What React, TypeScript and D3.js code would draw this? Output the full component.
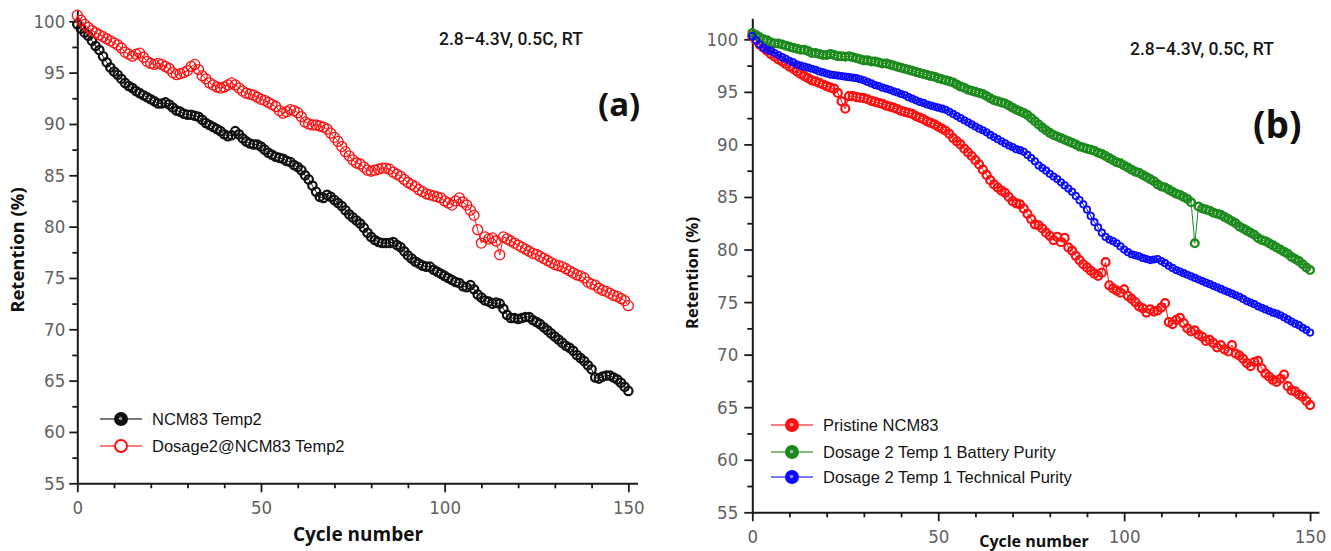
import React, { useRef, useEffect } from 'react';
import * as d3 from 'd3';

// retention (%) per cycle, index = cycle number 0..150
const NCM83_TEMP2 = [
  99.7, 99.3, 98.9, 98.6, 98.1, 97.6, 97.2, 96.6, 96.0, 95.5,
  95.1, 94.8, 94.4, 94.0, 93.7, 93.5, 93.2, 93.0, 92.8, 92.6,
  92.4, 92.2, 92.0, 92.0, 92.1, 91.9, 91.6, 91.3, 91.2, 91.0,
  90.9, 90.9, 90.8, 90.7, 90.4, 90.1, 89.9, 89.7, 89.5, 89.3,
  89.0, 88.8, 88.9, 89.3, 89.0, 88.6, 88.3, 88.1, 88.0, 88.0,
  87.8, 87.5, 87.2, 87.0, 86.8, 86.7, 86.6, 86.4, 86.3, 86.0,
  85.8, 85.5, 85.0, 84.6, 84.0, 83.4, 82.9, 82.8, 83.1, 82.9,
  82.6, 82.3, 82.0, 81.6, 81.2, 80.9, 80.6, 80.3, 79.9, 79.4,
  79.0, 78.7, 78.5, 78.4, 78.4, 78.4, 78.5, 78.2, 78.0, 77.6,
  77.2, 76.9, 76.6, 76.4, 76.2, 76.1, 76.1, 75.8, 75.6, 75.4,
  75.2, 75.0, 74.8, 74.6, 74.5, 74.2, 74.1, 74.3, 73.9, 73.4,
  73.1, 72.8, 72.7, 72.5, 72.6, 72.5, 72.0, 71.4, 71.1, 71.1,
  71.0, 71.1, 71.2, 71.2, 70.9, 70.7, 70.5, 70.2, 69.9, 69.6,
  69.3, 69.0, 68.7, 68.4, 68.2, 67.9, 67.5, 67.2, 66.9, 66.5,
  66.1, 65.3, 65.2, 65.4, 65.5, 65.5, 65.3, 65.1, 64.8, 64.4,
  64.0,
];

const DOSAGE2_NCM83_TEMP2 = [
  100.6, 100.1, 99.7, 99.4, 99.1, 98.9, 98.7, 98.5, 98.3, 98.1,
  97.9, 97.7, 97.4, 97.0, 96.8, 96.6, 96.8, 96.9, 96.5, 96.1,
  95.9, 95.8, 95.9, 95.8, 95.6, 95.4, 95.0, 94.8, 94.9, 95.0,
  95.2, 95.6, 95.8, 95.3, 94.7, 94.4, 94.0, 93.8, 93.6, 93.5,
  93.6, 93.8, 94.0, 93.8, 93.5, 93.2, 93.0, 92.9, 92.8, 92.6,
  92.4, 92.3, 92.1, 91.9, 91.7, 91.3, 91.05, 91.2, 91.4, 91.3,
  91.1, 90.7, 90.2, 90.0, 89.9, 89.9, 89.8, 89.7, 89.5, 89.1,
  88.7, 88.3, 87.8, 87.3, 86.9, 86.5, 86.2, 86.1, 85.8, 85.5,
  85.4, 85.5, 85.6, 85.7, 85.7, 85.6, 85.3, 85.1, 84.9, 84.6,
  84.3, 84.1, 83.9, 83.6, 83.4, 83.2, 83.1, 83.0, 82.9, 82.8,
  82.5, 82.3, 82.1, 82.5, 82.8, 82.4, 82.1, 81.6, 81.1, 79.7,
  78.4, 79.0, 78.8, 78.9, 78.6, 77.25, 79.0, 78.8, 78.6, 78.4,
  78.2, 78.0, 77.8, 77.6, 77.4, 77.3, 77.1, 76.9, 76.7, 76.5,
  76.3, 76.2, 76.1, 75.9, 75.7, 75.5, 75.3, 75.2, 75.0, 74.6,
  74.4, 74.3, 74.0, 73.8, 73.7, 73.5, 73.3, 73.2, 73.0, 72.8,
  72.3,
];

const PRISTINE_NCM83 = [
  100.3, 99.9, 99.5, 99.2, 98.9, 98.6, 98.35, 98.1, 97.9, 97.65,
  97.4, 97.2, 96.95, 96.7, 96.5, 96.3, 96.1, 96.0, 95.85, 95.7,
  95.55, 95.4, 95.3, 94.9, 94.1, 93.4, 94.6, 94.6, 94.5, 94.45,
  94.4, 94.3, 94.15, 94.05, 93.95, 93.85, 93.7, 93.6, 93.5, 93.35,
  93.2, 93.1, 93.0, 92.9, 92.7, 92.55, 92.4, 92.2, 92.05, 91.9,
  91.7, 91.5, 91.3, 91.0, 90.6, 90.3, 90.0, 89.6, 89.25, 88.9,
  88.5, 88.1, 87.6, 87.1, 86.6, 86.2, 85.9, 85.6, 85.4, 85.0,
  84.6, 84.4, 84.3, 83.9, 83.4, 82.9, 82.4, 82.3, 82.0, 81.6,
  81.3, 80.9, 81.2, 80.7, 81.1, 80.2, 79.9, 79.4, 79.0, 78.6,
  78.3, 78.0, 77.7, 77.5, 77.8, 78.8, 76.6, 76.3, 76.1, 75.9,
  76.2, 75.6, 75.3, 75.0, 74.6, 74.4, 74.0, 74.3, 74.1, 74.2,
  74.5, 74.9, 73.1, 72.9, 73.3, 73.5, 73.0, 72.5, 72.2, 72.3,
  71.9, 71.7, 71.3, 71.4, 71.1, 70.7, 70.9, 70.5, 70.3, 70.9,
  70.1, 69.9, 69.6, 69.2, 68.9, 69.3, 69.4, 68.7, 68.2, 67.9,
  67.6, 67.4, 67.7, 68.1, 67.0, 66.6, 66.5, 66.2, 66.0, 65.6,
  65.2,
];

const BATTERY_PURITY = [
  100.6, 100.4, 100.2, 100.0, 99.9, 99.7, 99.6, 99.6, 99.5, 99.4,
  99.3, 99.2, 99.1, 99.0, 99.0, 98.9, 98.7, 98.7, 98.6, 98.5,
  98.5, 98.6, 98.5, 98.4, 98.4, 98.35, 98.4, 98.3, 98.2, 98.1,
  98.0, 98.0, 97.9, 97.9, 97.8, 97.7, 97.7, 97.6, 97.5, 97.4,
  97.3, 97.2, 97.1, 97.0, 96.9, 96.8, 96.7, 96.6, 96.5, 96.45,
  96.3, 96.2, 96.1, 96.0, 95.9, 95.7, 95.5, 95.4, 95.2, 95.1,
  95.0, 94.9, 94.8, 94.6, 94.4, 94.2, 94.1, 94.0, 93.9, 93.7,
  93.5, 93.3, 93.15, 93.0, 92.8, 92.5, 92.2, 91.9, 91.6, 91.35,
  91.1, 90.9, 90.75, 90.6, 90.45, 90.3, 90.15, 90.0, 89.8, 89.7,
  89.6, 89.5, 89.4, 89.2, 89.1, 88.9, 88.7, 88.5, 88.3, 88.2,
  88.0, 87.8, 87.6, 87.4, 87.3, 87.1, 86.9, 86.7, 86.5, 86.2,
  86.0, 85.9, 85.7, 85.5, 85.3, 85.2, 85.0, 84.8, 84.5, 80.6,
  84.1, 83.9, 83.8, 83.7, 83.5, 83.4, 83.3, 83.1, 82.9, 82.7,
  82.5, 82.2, 82.0, 81.8, 81.6, 81.4, 81.1, 80.9, 80.8, 80.6,
  80.4, 80.2, 80.0, 79.8, 79.6, 79.3, 79.1, 78.9, 78.6, 78.3,
  78.05,
];

const TECHNICAL_PURITY = [
  100.3, 99.9, 99.5, 99.2, 99.0, 98.9, 98.7, 98.5, 98.3, 98.15,
  97.95, 97.8, 97.6, 97.5, 97.4, 97.3, 97.2, 97.1, 96.95, 96.85,
  96.75, 96.65, 96.6, 96.55, 96.5, 96.45, 96.4, 96.35, 96.3, 96.2,
  96.1, 95.95, 95.8, 95.65, 95.55, 95.4, 95.3, 95.2, 95.05, 94.95,
  94.8, 94.7, 94.5, 94.35, 94.2, 94.05, 93.95, 93.8, 93.7, 93.6,
  93.5, 93.4, 93.3, 93.1, 92.9, 92.7, 92.5, 92.3, 92.1, 91.9,
  91.7, 91.5, 91.35, 91.15, 90.9, 90.7, 90.5, 90.3, 90.1, 89.9,
  89.75, 89.55, 89.45, 89.3, 89.0, 88.7, 88.4, 88.0, 87.75, 87.5,
  87.2, 86.95, 86.7, 86.4, 86.1, 85.8, 85.5, 85.1, 84.7, 84.3,
  83.8, 83.2, 82.6, 82.1, 81.6, 81.2, 80.95, 80.8, 80.6, 80.3,
  80.0, 79.75, 79.55, 79.45, 79.35, 79.2, 79.1, 79.0, 79.05, 79.1,
  78.9, 78.7, 78.45, 78.25, 78.05, 77.9, 77.75, 77.6, 77.45, 77.3,
  77.15, 77.0, 76.85, 76.7, 76.55, 76.4, 76.25, 76.1, 75.95, 75.8,
  75.65, 75.5, 75.3, 75.1, 74.95, 74.8, 74.6, 74.45, 74.3, 74.15,
  74.0, 73.9, 73.75, 73.55, 73.35, 73.15, 72.95, 72.8, 72.55, 72.35,
  72.1,
];

const X_TICKS = [0, 50, 100, 150];
const X_MINOR = [10, 20, 30, 40, 60, 70, 80, 90, 110, 120, 130, 140];
const Y_TICKS = [55, 60, 65, 70, 75, 80, 85, 90, 95, 100];
const Y_MINOR = [57.5, 62.5, 67.5, 72.5, 77.5, 82.5, 87.5, 92.5, 97.5];

const CONDITION = '2.8\u20134.3V, 0.5C, RT';

const TICK_FONT = "'Liberation Sans Narrow', 'Arial Narrow', 'DejaVu Sans Condensed', sans-serif";
const TEXT_FONT = "'Liberation Sans', Arial, sans-serif";
const BOLD_FONT = "'Open Sans', 'Noto Sans', Arial, sans-serif";

type Series = {
  name: string;
  values: number[];
  color: string;
  r: number;
  sw: number;
  legendFill: string;
};

function drawPanel(svg: any, p: any) {
  const g = svg.append('g');
  const x = d3.scaleLinear().domain([0, p.xMax]).range([p.left, p.right]);
  const y = d3.scaleLinear().domain([55, p.yMax]).range([p.bottom, p.top]);

  // minor ticks first
  g.append('g')
    .attr('transform', `translate(0,${p.bottom})`)
    .call(d3.axisBottom(x).tickValues(X_MINOR).tickSize(5).tickSizeOuter(0).tickFormat(() => ''))
    .call((a: any) => a.select('.domain').remove());
  g.append('g')
    .attr('transform', `translate(${p.left},0)`)
    .call(d3.axisLeft(y).tickValues(Y_MINOR).tickSize(5).tickSizeOuter(0).tickFormat(() => ''))
    .call((a: any) => a.select('.domain').remove());

  const xa = g.append('g')
    .attr('transform', `translate(0,${p.bottom})`)
    .call(d3.axisBottom(x).tickValues(X_TICKS).tickSize(9).tickSizeOuter(0).tickPadding(9));
  const ya = g.append('g')
    .attr('transform', `translate(${p.left},0)`)
    .call(d3.axisLeft(y).tickValues(Y_TICKS).tickSize(8).tickSizeOuter(0).tickPadding(p.yPad));

  g.selectAll('.domain').attr('stroke', '#1a1a1a').attr('stroke-width', 2);
  g.selectAll('.tick line').attr('stroke', '#1a1a1a').attr('stroke-width', 1.8);
  [xa, ya].forEach((a: any) =>
    a.selectAll('text')
      .attr('fill', '#5f5f5f')
      .style('font-family', TICK_FONT)
      .style('font-size', '18.5px')
  );

  const line = d3.line<number>().x((d, i) => x(i)).y((d) => y(d));

  p.series.forEach((s: Series) => {
    const sg = g.append('g');
    sg.append('path')
      .attr('d', line(s.values))
      .attr('fill', 'none')
      .attr('stroke', s.color)
      .attr('stroke-width', 1);
    sg.selectAll('circle')
      .data(s.values)
      .join('circle')
      .attr('cx', (d: number, i: number) => x(i))
      .attr('cy', (d: number) => y(d))
      .attr('r', s.r)
      .attr('fill', 'none')
      .attr('stroke', s.color)
      .attr('stroke-width', s.sw);
  });

  // legend
  const lg = g.append('g');
  p.legendOrder.forEach((s: Series, i: number) => {
    const ly = p.legendY[i];
    lg.append('line')
      .attr('x1', p.legendX - 21).attr('x2', p.legendX + 21)
      .attr('y1', ly).attr('y2', ly)
      .attr('stroke', s.color).attr('stroke-width', 2).attr('opacity', 0.55);
    lg.append('circle')
      .attr('cx', p.legendX).attr('cy', ly).attr('r', 6)
      .attr('fill', s.legendFill)
      .attr('stroke', s.color).attr('stroke-width', 2);
    if (s.legendFill !== '#fff') {
      lg.append('circle')
        .attr('cx', p.legendX - 0.5).attr('cy', ly - 0.5).attr('r', 1.8)
        .attr('fill', '#fff').attr('opacity', 0.55);
    }
    lg.append('text')
      .attr('x', p.legendX + 31).attr('y', ly)
      .attr('dy', '0.35em')
      .attr('fill', '#151515')
      .style('font-family', TEXT_FONT)
      .style('font-size', '16.5px')
      .text(s.name);
  });

  // titles
  g.append('text')
    .attr('transform', `translate(${p.yTitleX},${p.yTitleY}) rotate(-90)`)
    .attr('text-anchor', 'middle')
    .attr('fill', '#111')
    .style('font-family', BOLD_FONT)
    .style('font-weight', 700)
    .style('font-size', `${p.yTitleSize}px`)
    .text('Retention (%)');
  g.append('text')
    .attr('x', p.xTitleX).attr('y', p.xTitleY)
    .attr('text-anchor', 'middle')
    .attr('fill', '#111')
    .style('font-family', BOLD_FONT)
    .style('font-weight', 700)
    .style('font-size', `${p.xTitleSize}px`)
    .text('Cycle number');

  g.append('text')
    .attr('x', p.condX).attr('y', p.condY)
    .attr('fill', '#161616')
    .style('font-family', "Roboto, 'Liberation Sans', sans-serif")
    .style('font-weight', 500)
    .style('font-size', '17.5px')
    .text(CONDITION);
  g.append('text')
    .attr('x', p.tagX).attr('y', p.tagY)
    .attr('fill', '#111')
    .style('font-family', BOLD_FONT)
    .style('font-weight', 700)
    .style('font-size', `${p.tagSize}px`)
    .text(p.tag);
}

export default function App() {
  const svgRef = useRef<SVGSVGElement>(null);

  useEffect(() => {
    const svg = d3.select(svgRef.current);
    svg.selectAll('*').remove();

    const black: Series = { name: 'NCM83 Temp2', values: NCM83_TEMP2, color: '#111', r: 4.2, sw: 2.2, legendFill: '#111' };
    const redA: Series = { name: 'Dosage2@NCM83 Temp2', values: DOSAGE2_NCM83_TEMP2, color: '#ff1010', r: 5, sw: 1.3, legendFill: '#fff' };
    const redB: Series = { name: 'Pristine NCM83', values: PRISTINE_NCM83, color: '#ff1010', r: 4, sw: 2.2, legendFill: '#ff1010' };
    const green: Series = { name: 'Dosage 2 Temp 1 Battery Purity', values: BATTERY_PURITY, color: '#1d8a1d', r: 3.8, sw: 2.4, legendFill: '#1d8a1d' };
    const blue: Series = { name: 'Dosage 2 Temp 1 Technical Purity', values: TECHNICAL_PURITY, color: '#0a0aff', r: 3.2, sw: 1.8, legendFill: '#0a0aff' };

    drawPanel(svg, {
      left: 77.3, right: 637.5, xMax: 152.5,
      top: 10, bottom: 483.3, yMax: 101.1, yPad: 4,
      series: [black, redA],
      legendOrder: [black, redA],
      legendX: 121, legendY: [419, 446],
      yTitleX: 24, yTitleY: 250, yTitleSize: 18.5,
      xTitleX: 358, xTitleY: 541, xTitleSize: 19,
      condX: 439, condY: 45,
      tag: '(a)', tagX: 598, tagY: 116, tagSize: 33,
    });

    drawPanel(svg, {
      left: 752.3, right: 1319, xMax: 152.4,
      top: 18.3, bottom: 512.3, yMax: 102, yPad: 6,
      series: [redB, green, blue],
      legendOrder: [redB, green, blue],
      legendX: 792, legendY: [425, 452, 477],
      yTitleX: 698, yTitleY: 273, yTitleSize: 16.5,
      xTitleX: 1034, xTitleY: 547, xTitleSize: 16,
      condX: 1130, condY: 55,
      tag: '(b)', tagX: 1253, tagY: 138, tagSize: 37,
    });
  }, []);

  return (
    <svg
      ref={svgRef}
      width={1331}
      height={551}
      style={{ position: 'absolute', left: 0, top: 0, background: '#fff' }}
    />
  );
}
